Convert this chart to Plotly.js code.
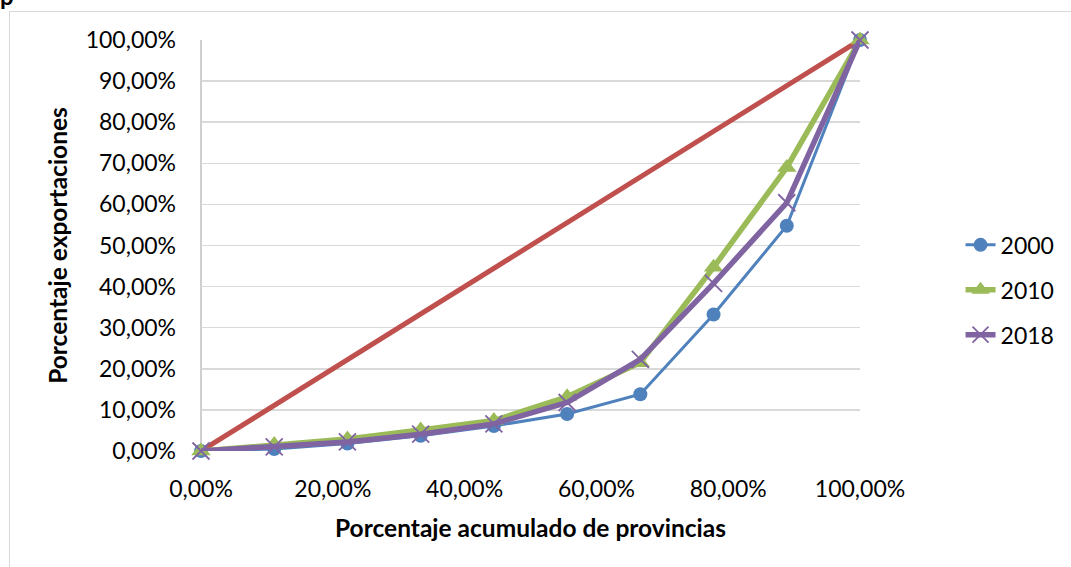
<!DOCTYPE html>
<html>
<head>
<meta charset="utf-8">
<script src="https://cdn.plot.ly/plotly-3.0.1.min.js"></script>
<style>
  html, body { margin: 0; padding: 0; background: #ffffff; overflow: hidden; }
  #wrap { position: relative; width: 1071px; height: 567px; }
  #frame { position: absolute; left: 9px; top: 11px; width: 1100px; height: 600px;
           border: 1.5px solid #d9d9d9; box-sizing: border-box; }
  #cut { position: absolute; left: 0px; top: -19px; font-family: Lato, sans-serif;
         font-weight: bold; font-size: 24px; color: #000; }
  #chart { position: absolute; left: 0; top: 0; width: 1071px; height: 567px; }
</style>
</head>
<body>
<div id="wrap">
  <div id="frame"></div>
  <div id="cut">p</div>
  <div id="chart"></div>
</div>
<script>
// Cumulative share of provinces (9 provinces)
const provincias = [0, 1/9, 2/9, 3/9, 4/9, 5/9, 6/9, 7/9, 8/9, 1];
// Equality line
const igualdadX = [0, 1];
const igualdadY = [0, 1];
// Cumulative share of exports
const exp2000 = [0, 0.005, 0.018, 0.037, 0.061, 0.090, 0.138, 0.332, 0.548, 1];
const exp2010 = [0, 0.016, 0.029, 0.051, 0.074, 0.132, 0.215, 0.447, 0.690, 1];
const exp2018 = [0, 0.010, 0.022, 0.041, 0.066, 0.118, 0.223, 0.408, 0.604, 1];
const nombres = ['2000', '2010', '2018'];

const FONT = 'Lato, "Open Sans", sans-serif';

const traces = [
  {
    x: igualdadX, y: igualdadY, mode: 'lines', showlegend: false,
    line: { color: '#c0504d', width: 5 }, hoverinfo: 'skip', cliponaxis: false
  },
  {
    x: provincias, y: exp2000, name: nombres[0], mode: 'lines+markers', legendgroup: 'a',
    line: { color: '#4f81bd', width: 3 },
    marker: { symbol: 'circle', size: 14, color: '#4f81bd' }, cliponaxis: false
  },
  {
    x: provincias, y: exp2010, name: nombres[1], mode: 'lines+markers', legendgroup: 'b',
    line: { color: '#9bbb59', width: 5.5 },
    marker: { symbol: 'triangle-up', size: 17, color: '#9bbb59' }, cliponaxis: false
  },
  {
    x: provincias, y: exp2018, name: nombres[2], mode: 'lines+markers', legendgroup: 'c',
    line: { color: '#8064a2', width: 5.5 },
    marker: { symbol: 'x-thin-open', size: 17, color: '#8064a2', line: { color: '#8064a2', width: 1.8 } },
    cliponaxis: false
  }
];

const layout = {
  width: 1071, height: 567,
  margin: { l: 201, r: 209, t: 40, b: 116, pad: 0 },
  paper_bgcolor: 'rgba(0,0,0,0)', plot_bgcolor: 'rgba(0,0,0,0)',
  separators: ',.',
  font: { family: FONT, size: 23, color: '#000000' },
  showlegend: true,
  legend: {
    x: 0.145, y: 0.392, xanchor: 'left', yanchor: 'middle',
    font: { family: FONT, size: 23, color: '#000' },
    tracegroupgap: 12, bgcolor: 'rgba(0,0,0,0)'
  },
  xaxis: {
    range: [0, 1], dtick: 0.2, tick0: 0, tickformat: '.2%',
    showgrid: false, zeroline: false, showline: false,
    ticks: '', ticklabelstandoff: 22,
    title: { text: '<b>Porcentaje acumulado de provincias</b>', font: { family: FONT, size: 24.5 }, standoff: 18 }
  },
  yaxis: {
    range: [0, 1], dtick: 0.1, tick0: 0, tickformat: '.2%',
    showgrid: true, gridcolor: '#d9d9d9', gridwidth: 1.5,
    zeroline: false, showline: false,
    ticks: '', ticklabelstandoff: 24,
    title: { text: '<b>Porcentaje exportaciones</b>', font: { family: FONT, size: 24.5 }, standoff: 11 }
  },
  shapes: [
    { type: 'line', xref: 'paper', yref: 'paper', x0: 0, x1: 0, y0: 0, y1: 1,
      line: { color: '#bfbfbf', width: 1.5 }, layer: 'below' }
  ]
};
layout.legend.x = 1 + (963 - 862) / 662;

Plotly.newPlot('chart', traces, layout, { displayModeBar: false, staticPlot: true });
</script>
</body>
</html>
